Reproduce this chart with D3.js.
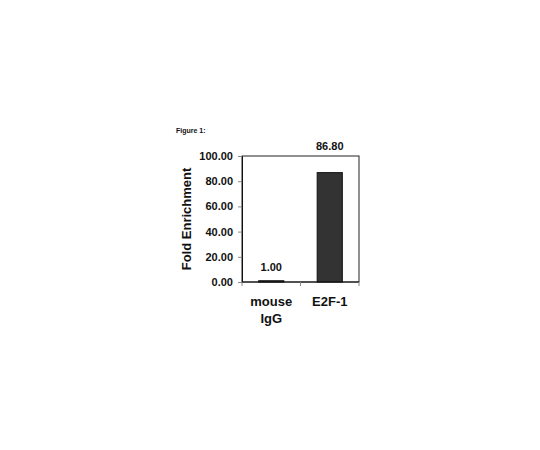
<!DOCTYPE html>
<html>
<head>
<meta charset="utf-8">
<script src="https://cdn.jsdelivr.net/npm/d3@7"></script>
<style>
  body { margin:0; background:#fff; }
  text { font-family: "Liberation Sans", Arial, sans-serif; font-weight:bold; fill:#111; }
</style>
</head>
<body>
<div class="canvas"></div>
<script>
// chart data
var categories = ['mouse IgG', 'E2F-1'];
var foldValues = [1.00, 86.80];
var valueLabels = ['1.00', '86.80'];
var yTicks = [0, 20, 40, 60, 80, 100];

var canvasWidth = 540, canvasHeight = 450;
var plot = {l:242, t:156, w:117, h:126};

var svg = d3.select('.canvas')
    .append('svg')
    .attr('width', canvasWidth)
    .attr('height', canvasHeight);

var x = d3.scaleBand()
    .domain(categories)
    .range([plot.l, plot.l + plot.w])
    .paddingInner(0.57)
    .paddingOuter(0.285);

var y = d3.scaleLinear()
    .domain([0, 100])
    .range([plot.t + plot.h, plot.t]);

// title
svg.append('text')
    .attr('x', 176)
    .attr('y', 133)
    .style('font-size', '7px')
    .text('Figure 1:');

// frame (top and right)
svg.append('rect')
    .attr('x', plot.l)
    .attr('y', plot.t)
    .attr('width', plot.w)
    .attr('height', plot.h)
    .style('fill', 'none')
    .style('stroke', '#222')
    .style('stroke-width', 1);

// bars
svg.selectAll('rect.bar')
    .data(foldValues)
    .enter()
    .append('rect')
    .attr('class', 'bar')
    .attr('x', function(d, i){ return x(categories[i]); })
    .attr('y', function(d){ return y(d); })
    .attr('width', x.bandwidth())
    .attr('height', function(d){ return y(0) - y(d); })
    .style('fill', '#333')
    .style('stroke', '#111')
    .style('stroke-width', 1);

// value labels; a tall bar gets its label above the frame
svg.selectAll('text.val')
    .data(valueLabels)
    .enter()
    .append('text')
    .attr('class', 'val')
    .attr('x', function(d, i){ return x(categories[i]) + x.bandwidth() / 2; })
    .attr('y', function(d, i){
        var ly = y(foldValues[i]) - 10;
        return ly < plot.t + 20 ? plot.t - 6 : ly;
    })
    .attr('text-anchor', 'middle')
    .style('font-size', '11px')
    .text(function(d){ return d; });

// y axis
var yAxis = svg.append('g')
    .attr('transform', 'translate(' + plot.l + ',0)')
    .call(d3.axisLeft(y).tickValues(yTicks).tickFormat(d3.format('.2f')).tickSize(4).tickPadding(5));
yAxis.select('.domain').style('stroke', '#111');
yAxis.selectAll('.tick line').style('stroke', '#888');
yAxis.selectAll('.tick text')
    .style('font-size', '11px')
    .style('font-family', '"Liberation Sans", Arial, sans-serif')
    .style('font-weight', 'bold')
    .attr('fill', '#111');

// x axis with ticks at category boundaries
var xAxis = svg.append('g')
    .attr('transform', 'translate(0,' + (plot.t + plot.h) + ')');
xAxis.append('line')
    .attr('x1', plot.l).attr('x2', plot.l + plot.w)
    .style('stroke', '#111');
var step = plot.w / categories.length;
xAxis.selectAll('line.tk')
    .data(d3.range(categories.length + 1))
    .enter()
    .append('line')
    .attr('class', 'tk')
    .attr('x1', function(d){ return plot.l + d * step; })
    .attr('x2', function(d){ return plot.l + d * step; })
    .attr('y1', 0).attr('y2', 4)
    .style('stroke', '#888');

// category labels (wrapped)
var cat = svg.selectAll('text.cat')
    .data(categories)
    .enter()
    .append('text')
    .attr('class', 'cat')
    .attr('text-anchor', 'middle')
    .style('font-size', '13px')
    .attr('x', function(d){ return x(d) + x.bandwidth() / 2; })
    .attr('y', 306);
cat.each(function(d){
    var cx = x(d) + x.bandwidth() / 2;
    var words = d === 'E2F-1' ? [d] : d.split(' ');
    d3.select(this).selectAll('tspan')
        .data(words)
        .enter()
        .append('tspan')
        .attr('x', cx)
        .attr('dy', function(w, i){ return i ? 17 : 0; })
        .text(function(w){ return w; });
});

// y axis title
svg.append('text')
    .attr('transform', 'translate(191,' + (plot.t + plot.h / 2) + ') rotate(-90)')
    .attr('text-anchor', 'middle')
    .style('font-size', '13px')
    .text('Fold Enrichment');
</script>
</body>
</html>
